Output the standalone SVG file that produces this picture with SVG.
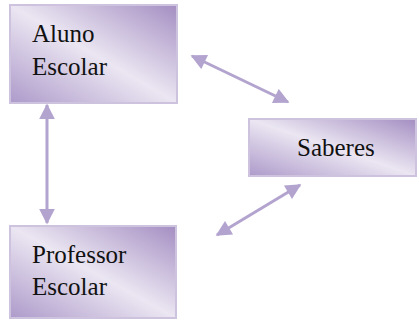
<svg xmlns="http://www.w3.org/2000/svg" width="419" height="321" viewBox="0 0 419 321">
  <style>
    .box { fill: url(#boxFill); stroke: #cdc3df; stroke-width: 2; }
    .label { font-family: 'Liberation Serif', 'Times New Roman', Tinos, 'DejaVu Serif', serif; font-size: 25px; fill: #111; }
    .link { stroke: #b3a4cf; stroke-width: 3; fill: none; marker-start: url(#head); marker-end: url(#head); }
  </style>
  <defs>
    <linearGradient id="boxFill" x1="1" y1="0" x2="0" y2="1">
      <stop offset="0" stop-color="#a48ec2"/>
      <stop offset="0.5" stop-color="#ebe6f2"/>
      <stop offset="1" stop-color="#ad9aca"/>
    </linearGradient>
    <marker id="head" viewBox="0 0 10 10" refX="9" refY="5" markerWidth="6" markerHeight="5.2" orient="auto-start-reverse" markerUnits="strokeWidth">
      <path d="M0,0 L10,5 L0,10 Z" fill="#b3a4cf"/>
    </marker>
  </defs>

  <g id="connectors">
    <line class="link" x1="47" y1="105" x2="47" y2="223"/>
    <line class="link" x1="192" y1="56" x2="288" y2="102"/>
    <line class="link" x1="300" y1="185" x2="217" y2="235"/>
  </g>

  <g id="aluno">
    <rect class="box" x="10" y="5" width="167" height="98"/>
    <text class="label" font-family="Liberation Serif, serif" x="32" y="42">Aluno</text>
    <text class="label" font-family="Liberation Serif, serif" x="32" y="75">Escolar</text>
  </g>

  <g id="saberes">
    <rect class="box" x="249" y="119" width="167" height="57"/>
    <text class="label" font-family="Liberation Serif, serif" x="297" y="156">Saberes</text>
  </g>

  <g id="professor">
    <rect class="box" x="10" y="226" width="166" height="92"/>
    <text class="label" font-family="Liberation Serif, serif" x="32" y="263">Professor</text>
    <text class="label" font-family="Liberation Serif, serif" x="32" y="295">Escolar</text>
  </g>
</svg>
